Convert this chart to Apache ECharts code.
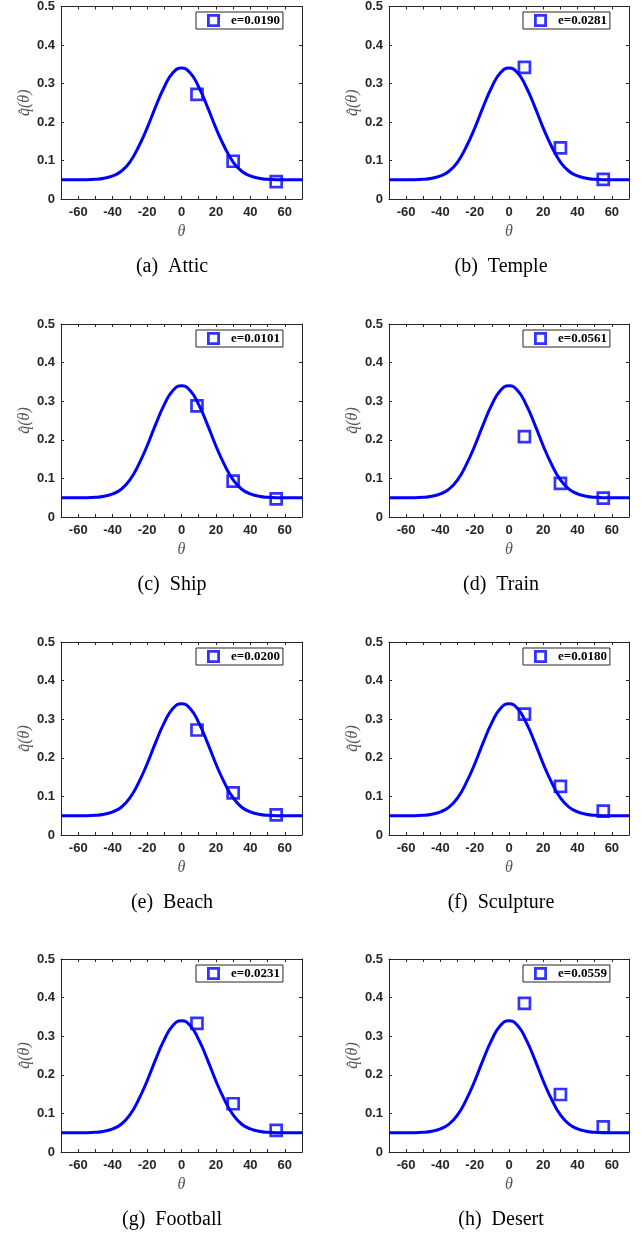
<!DOCTYPE html>
<html><head><meta charset="utf-8">
<script src="https://cdn.jsdelivr.net/npm/echarts@6/dist/echarts.min.js"></script>
<style>html,body{margin:0;padding:0;background:#fff}#c{width:642px;height:1234px}</style>
</head><body><div id="c"></div>
<script>
// ---- data ----
const curveTheta = [-70,-65,-60,-55,-50,-45,-40,-35,-30,-25,-20,-15,-10,-5,0,5,10,15,20,25,30,35,40,45,50,55,60,65,70];
const curveQ     = [0.050,0.050,0.050,0.050,0.051,0.054,0.060,0.072,0.096,0.135,0.184,0.240,0.291,0.328,0.340,0.328,0.291,0.240,0.184,0.135,0.096,0.072,0.060,0.054,0.051,0.050,0.050,0.050,0.050];
const pointTheta = [9, 30, 55];
const pointsAttic     = [0.272, 0.098, 0.045];
const pointsTemple    = [0.342, 0.133, 0.051];
const pointsShip      = [0.288, 0.093, 0.047];
const pointsTrain     = [0.208, 0.087, 0.049];
const pointsBeach     = [0.272, 0.109, 0.052];
const pointsSculpture = [0.313, 0.126, 0.062];
const pointsFootball  = [0.333, 0.125, 0.056];
const pointsDesert    = [0.385, 0.149, 0.065];
const panelLetters = ['a','b','c','d','e','f','g','h'];
const panelNames   = ['Attic','Temple','Ship','Train','Beach','Sculpture','Football','Desert'];
const panelErrors  = ['0.0190','0.0281','0.0101','0.0561','0.0200','0.0180','0.0231','0.0559'];
const panelPoints  = [pointsAttic,pointsTemple,pointsShip,pointsTrain,pointsBeach,pointsSculpture,pointsFootball,pointsDesert];
const xTickLabels = [-60,-40,-20,0,20,40,60];
const yTickLabels = ['0','0.1','0.2','0.3','0.4','0.5'];

// ---- layout ----
const colLeft = [61, 389], colWidth = [241, 240];
const rowTop = [6, 324, 642, 959], gridH = 193;
const captionX = [172, 501], captionY = [267, 585, 903, 1220];
const axisColor = '#262626';

const grid = [], xAxis = [], yAxis = [], series = [], legend = [], graphic = [];
const tickLabelStyle = {color: axisColor, fontWeight: 'bold', fontFamily: 'Liberation Sans', fontSize: 13};
const hollowSquare = 'path://M0,0H13V13H0Z M2.8,2.8V10.2H10.2V2.8Z';

panelNames.forEach((nm, i) => {
  const col = i % 2, row = Math.floor(i / 2);
  const L = colLeft[col], W = colWidth[col], T = rowTop[row];
  grid.push({left: L, top: T, width: W, height: gridH});
  const commonX = {gridIndex: i, type: 'value', min: -70, max: 70, interval: 10,
    axisLine: {show: true, onZero: false, lineStyle: {color: axisColor, width: 1}},
    axisTick: {show: true, inside: true, length: 3, lineStyle: {color: axisColor}},
    splitLine: {show: false}};
  xAxis.push(Object.assign({}, commonX, {position: 'bottom',
    axisLabel: Object.assign({margin: 7, formatter: v => xTickLabels.includes(v) ? String(v) : ''}, tickLabelStyle),
    name: 'θ', nameLocation: 'middle', nameGap: 25,
    nameTextStyle: {fontFamily: 'Liberation Serif', fontStyle: 'italic', fontSize: 16, color: '#555'}}));
  xAxis.push(Object.assign({}, commonX, {position: 'top', axisLabel: {show: false}}));
  const commonY = {gridIndex: i, type: 'value', min: 0, max: 0.5, interval: 0.1,
    axisLine: {show: true, onZero: false, lineStyle: {color: axisColor, width: 1}},
    axisTick: {show: true, inside: true, length: 3, lineStyle: {color: axisColor}},
    splitLine: {show: false}};
  yAxis.push(Object.assign({}, commonY, {position: 'left',
    axisLabel: Object.assign({margin: 6, formatter: v => yTickLabels[Math.round(v * 10)]}, tickLabelStyle),
    name: 'q̂(θ)', nameLocation: 'middle', nameGap: 23,
    nameTextStyle: {fontFamily: 'Liberation Serif', fontStyle: 'italic', fontSize: 16, color: '#555'}}));
  yAxis.push(Object.assign({}, commonY, {position: 'right', axisLabel: {show: false}}));

  series.push({type: 'line', name: 'fit' + i, xAxisIndex: 2 * i, yAxisIndex: 2 * i,
    data: curveTheta.map((t, k) => [t, curveQ[k]]), showSymbol: false, smooth: 0.5,
    lineStyle: {color: '#0000ff', width: 3}, itemStyle: {color: '#0000ff'}, silent: true, z: 2});
  const sname = 'e=' + panelErrors[i];
  series.push({type: 'scatter', name: sname, xAxisIndex: 2 * i, yAxisIndex: 2 * i,
    data: pointTheta.map((t, k) => [t, panelPoints[i][k]]), symbol: 'rect', symbolSize: 11,
    itemStyle: {color: 'rgba(255,255,255,0)', borderColor: '#0000ff', borderWidth: 2.7}, z: 3});
  legend.push({data: [{name: sname, icon: hollowSquare}], left: L + W - 15 - 91, top: T + 6, orient: 'horizontal',
    padding: [2, 3, 2, 11], itemWidth: 13, itemHeight: 13, borderColor: axisColor, borderWidth: 1,
    backgroundColor: '#fff', selectedMode: false,
    itemStyle: {color: '#0000ff', borderWidth: 0},
    textStyle: {fontFamily: 'Liberation Serif', fontWeight: 'bold', fontSize: 13, color: '#000', padding: [0, 0, 0, 6]}});
  graphic.push({type: 'text', x: captionX[col], y: captionY[row],
    style: {text: '(' + panelLetters[i] + ')  ' + nm, font: '20px "Liberation Serif"', fill: '#000',
      align: 'center', verticalAlign: 'middle'}});
});

const chart = echarts.init(document.getElementById('c'), null, {renderer: 'canvas'});
chart.setOption({animation: false, backgroundColor: '#fff', grid, xAxis, yAxis, series, legend, graphic});
</script></body></html>
